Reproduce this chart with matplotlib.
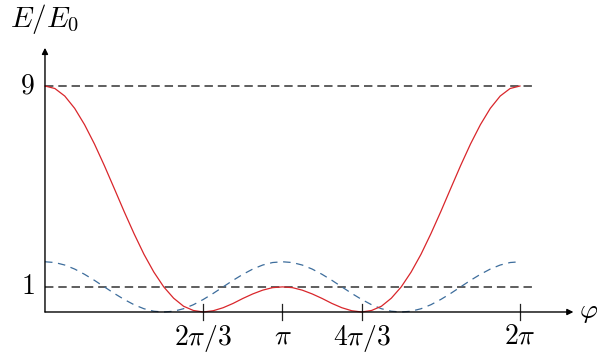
import numpy as np
import matplotlib
matplotlib.use("Agg")
import matplotlib.pyplot as plt

plt.rcParams["mathtext.fontset"] = "cm"
plt.rcParams["font.family"] = "serif"
plt.rcParams["font.serif"] = ["DejaVu Serif"]

# values, every pi/24 from 0 to 2pi
red_vals = [9.00, 8.90, 8.60, 8.11, 7.46, 6.69, 5.83, 4.92, 4.00, 3.12, 2.30, 1.59,
            1.00, 0.55, 0.23, 0.06, 0.00, 0.05, 0.17, 0.34, 0.54, 0.72, 0.87, 0.97,
            1.00, 0.97, 0.87, 0.72, 0.54, 0.34, 0.17, 0.05, 0.00, 0.06, 0.23, 0.55,
            1.00, 1.59, 2.30, 3.12, 4.00, 4.92, 5.83, 6.69, 7.46, 8.11, 8.60, 8.90, 9.00]
blue_vals = [2.00, 1.97, 1.87, 1.71, 1.50, 1.26, 1.00, 0.74, 0.50, 0.29, 0.13, 0.03,
             0.00, 0.03, 0.13, 0.29, 0.50, 0.74, 1.00, 1.26, 1.50, 1.71, 1.87, 1.97,
             2.00, 1.97, 1.87, 1.71, 1.50, 1.26, 1.00, 0.74, 0.50, 0.29, 0.13, 0.03,
             0.00, 0.03, 0.13, 0.29, 0.50, 0.74, 1.00, 1.26, 1.50, 1.71, 1.87, 1.97, 2.00]
phi = np.linspace(0, 2 * np.pi, len(red_vals))

ref_levels = [9, 1]
xticks = [2 * np.pi / 3, np.pi, 4 * np.pi / 3, 2 * np.pi]
xtick_labels = [r"$2\pi/3$", r"$\pi$", r"$4\pi/3$", r"$2\pi$"]

fig = plt.figure(figsize=(5.97, 3.53), dpi=100)
ax = fig.add_axes([0, 0, 1, 1])
ax.set_xlim(-0.595, 7.302)
ax.set_ylim(-1.633, 12.425)
ax.axis("off")

# reference levels
for lv in ref_levels:
    ax.plot([0, 6.45], [lv, lv], color="#333333", lw=1.1, dashes=(5.5, 3.2))
    ax.text(-0.14, lv, f"${lv}$", ha="right", va="center", fontsize=20)

ax.plot(phi, blue_vals, color="#3d6d9c", lw=0.9, dashes=(6, 4.5))
ax.plot(phi, red_vals, color="#d9262b", lw=0.9)

# axes with arrows
ax.annotate("", xy=(6.99, 0), xytext=(0, 0),
            arrowprops=dict(arrowstyle="-|>", color="black", lw=1.0,
                            shrinkA=0, shrinkB=0, mutation_scale=9))
ax.annotate("", xy=(0, 10.52), xytext=(0, 0),
            arrowprops=dict(arrowstyle="-|>", color="black", lw=1.0,
                            shrinkA=0, shrinkB=0, mutation_scale=9))

for xt, lab in zip(xticks, xtick_labels):
    ax.plot([xt, xt], [-0.32, 0.32], color="#222222", lw=0.9)
    ax.text(xt, -0.42, lab, ha="center", va="top", fontsize=20)

ax.text(7.06, 0, r"$\varphi$", ha="left", va="center", fontsize=20)
ax.text(0.0, 11.65, r"$E/E_0$", ha="center", va="center", fontsize=21)

fig.savefig("out.png", dpi=100)
